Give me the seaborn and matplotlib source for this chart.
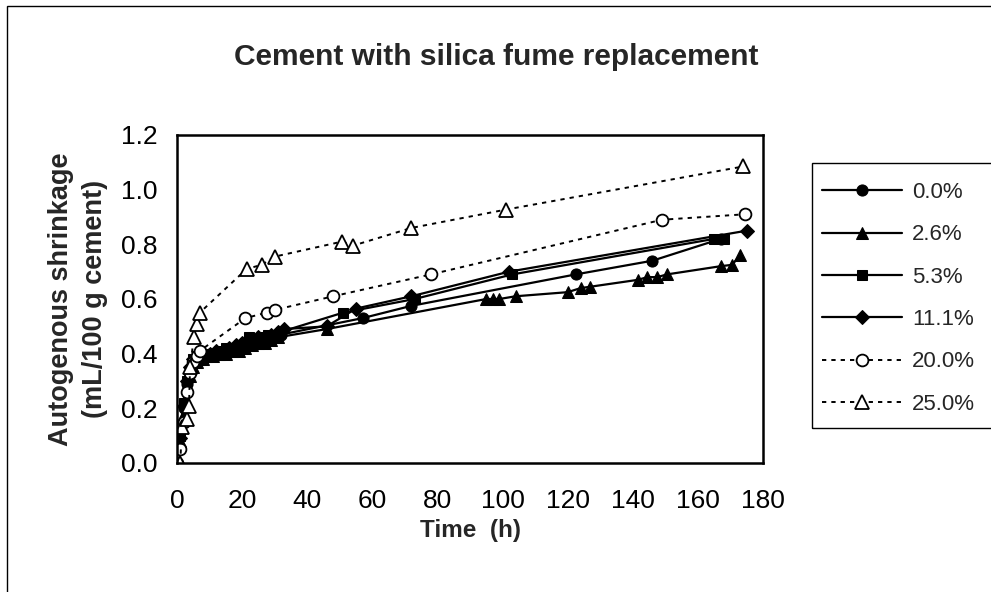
import numpy as np
import pandas as pd
import matplotlib
matplotlib.use("Agg")
import matplotlib.pyplot as plt
from matplotlib.ticker import MultipleLocator, FormatStrFormatter
from matplotlib.patches import Rectangle
import seaborn as sns

# Autogenous shrinkage (mL/100 g cement) vs time (h), by silica fume replacement
t_00 = [1, 2, 3, 4, 5, 6, 7, 8, 10, 12, 14, 16, 18, 20, 22, 24, 26, 28, 30, 32,
        57, 72, 122.5, 146, 167]
s_00 = [0.05, 0.20, 0.29, 0.33, 0.37, 0.38, 0.39, 0.40, 0.40, 0.40, 0.41, 0.41, 0.42,
        0.42, 0.43, 0.44, 0.45, 0.46, 0.46, 0.47, 0.53, 0.575, 0.69, 0.74, 0.82]

t_26 = [1, 2, 3, 4, 5, 6, 7, 8, 9, 11, 13, 15, 17, 19, 21, 23, 25, 27, 29, 31, 46,
        95, 97, 99, 104, 120, 124, 127, 141.5, 144.5, 147.5, 150.5, 167, 170.5, 173]
s_26 = [0.08, 0.18, 0.28, 0.32, 0.35, 0.37, 0.38, 0.38, 0.39, 0.39, 0.40, 0.40, 0.41,
        0.41, 0.42, 0.43, 0.44, 0.44, 0.45, 0.46, 0.49, 0.60, 0.60, 0.60, 0.61, 0.625,
        0.64, 0.645, 0.67, 0.68, 0.68, 0.69, 0.72, 0.725, 0.76]

t_53 = [1, 2, 3, 4, 5, 6, 7, 9, 11, 13, 15, 17, 19, 21, 22, 24, 26, 28, 30, 32,
        51, 73, 103, 165, 168]
s_53 = [0.10, 0.22, 0.30, 0.34, 0.38, 0.39, 0.40, 0.40, 0.40, 0.41, 0.42, 0.42, 0.43,
        0.44, 0.46, 0.45, 0.46, 0.47, 0.47, 0.48, 0.55, 0.60, 0.69, 0.82, 0.82]

t_111 = [1, 2, 3, 4, 5, 6, 7, 8, 10, 12, 14, 16, 18, 20, 23, 25, 27, 29, 31, 33,
         46, 55, 72, 102, 175]
s_111 = [0.09, 0.21, 0.30, 0.35, 0.38, 0.39, 0.39, 0.40, 0.40, 0.41, 0.41, 0.42, 0.43,
         0.44, 0.45, 0.46, 0.46, 0.47, 0.48, 0.49, 0.50, 0.565, 0.61, 0.70, 0.85]

t_200 = [0, 1, 2, 3, 4, 5, 6, 7, 21, 27.5, 30, 48, 78, 149, 174.5]
s_200 = [0.0, 0.05, 0.15, 0.26, 0.33, 0.37, 0.39, 0.41, 0.53, 0.55, 0.56, 0.61, 0.69,
         0.89, 0.91]

t_250 = [1, 1.5, 3, 3.7, 4, 5.2, 6, 7, 21.4, 26, 30, 50.7, 54, 72, 101, 174]
s_250 = [0.0, 0.13, 0.16, 0.21, 0.35, 0.46, 0.51, 0.55, 0.71, 0.725, 0.755, 0.81,
         0.795, 0.86, 0.927, 1.085]

labels = ['0.0%', '2.6%', '5.3%', '11.1%', '20.0%', '25.0%']

sns.set_style("white")
plt.rcParams['font.family'] = ['Liberation Sans', 'DejaVu Sans']

W, H = 991, 592
fig = plt.figure(figsize=(W / 100, H / 100), dpi=100)
ax = fig.add_axes([177 / W, 1 - 463 / H, 586 / W, 328 / H])

solid = dict(color='black', linewidth=1.6, markeredgecolor='black',
             markerfacecolor='black', estimator=None, sort=False, ax=ax)
dotted = dict(color='black', linewidth=1.4, linestyle=(0, (2.2, 2.6)),
              markeredgecolor='black', markerfacecolor='white',
              markeredgewidth=1.3, estimator=None, sort=False, ax=ax)

sns.lineplot(x=t_00, y=s_00, marker='o', markersize=8, label=labels[0], **solid)
sns.lineplot(x=t_26, y=s_26, marker='^', markersize=9, label=labels[1], **solid)
sns.lineplot(x=t_53, y=s_53, marker='s', markersize=7.5, label=labels[2], **solid)
sns.lineplot(x=t_111, y=s_111, marker='D', markersize=7, label=labels[3], **solid)
sns.lineplot(x=t_200, y=s_200, marker='o', markersize=8.5, label=labels[4], **dotted)
sns.lineplot(x=t_250, y=s_250, marker='^', markersize=10, label=labels[5], **dotted)

ax.set_xlim(0, 180)
ax.set_ylim(0, 1.2)
ax.xaxis.set_major_locator(MultipleLocator(20))
ax.xaxis.set_minor_locator(MultipleLocator(10))
ax.yaxis.set_major_locator(MultipleLocator(0.2))
ax.yaxis.set_minor_locator(MultipleLocator(0.1))
ax.yaxis.set_major_formatter(FormatStrFormatter('%.1f'))
ax.tick_params(which='both', direction='in', length=6, width=1.5, colors='black',
               labelsize=19)
ax.tick_params(axis='x', which='both', pad=19)
ax.tick_params(axis='y', which='both', pad=14)
for sp in ax.spines.values():
    sp.set_color('black')
    sp.set_linewidth(1.8)

ax.set_xlabel('Time  (h)', fontsize=17.5, fontweight='bold', labelpad=4)
ax.set_ylabel('Autogenous shrinkage\n(mL/100 g cement)', fontsize=19.5,
              fontweight='bold', linespacing=1.4)
ax.yaxis.set_label_coords(-0.118, 0.5)
fig.text(496 / W, 1 - 57 / H, 'Cement with silica fume replacement', ha='center',
         va='center', fontsize=21.5, fontweight='bold')

handles, labs = ax.get_legend_handles_labels()
ax.get_legend().remove()
leg = fig.legend(handles, labs, loc='upper left',
                 bbox_to_anchor=(812 / W, 1 - 172 / H), fontsize=16,
                 frameon=False, handlelength=3.6, labelspacing=0.96,
                 borderpad=0.45, borderaxespad=0, handletextpad=0.45)

# legend frame, running off the right edge as in the source chart
fig.patches.append(Rectangle((812 / W, 1 - 428 / H), 200 / W, 265 / H, fill=False,
                             edgecolor='black', linewidth=1.0,
                             transform=fig.transFigure, figure=fig))
# outer chart border
fig.patches.append(Rectangle((7 / W, -0.05), 1.2, 1.05 - 6 / H, fill=False,
                             edgecolor='black', linewidth=1.0,
                             transform=fig.transFigure, figure=fig))

fig.savefig('out.png', dpi=100)
